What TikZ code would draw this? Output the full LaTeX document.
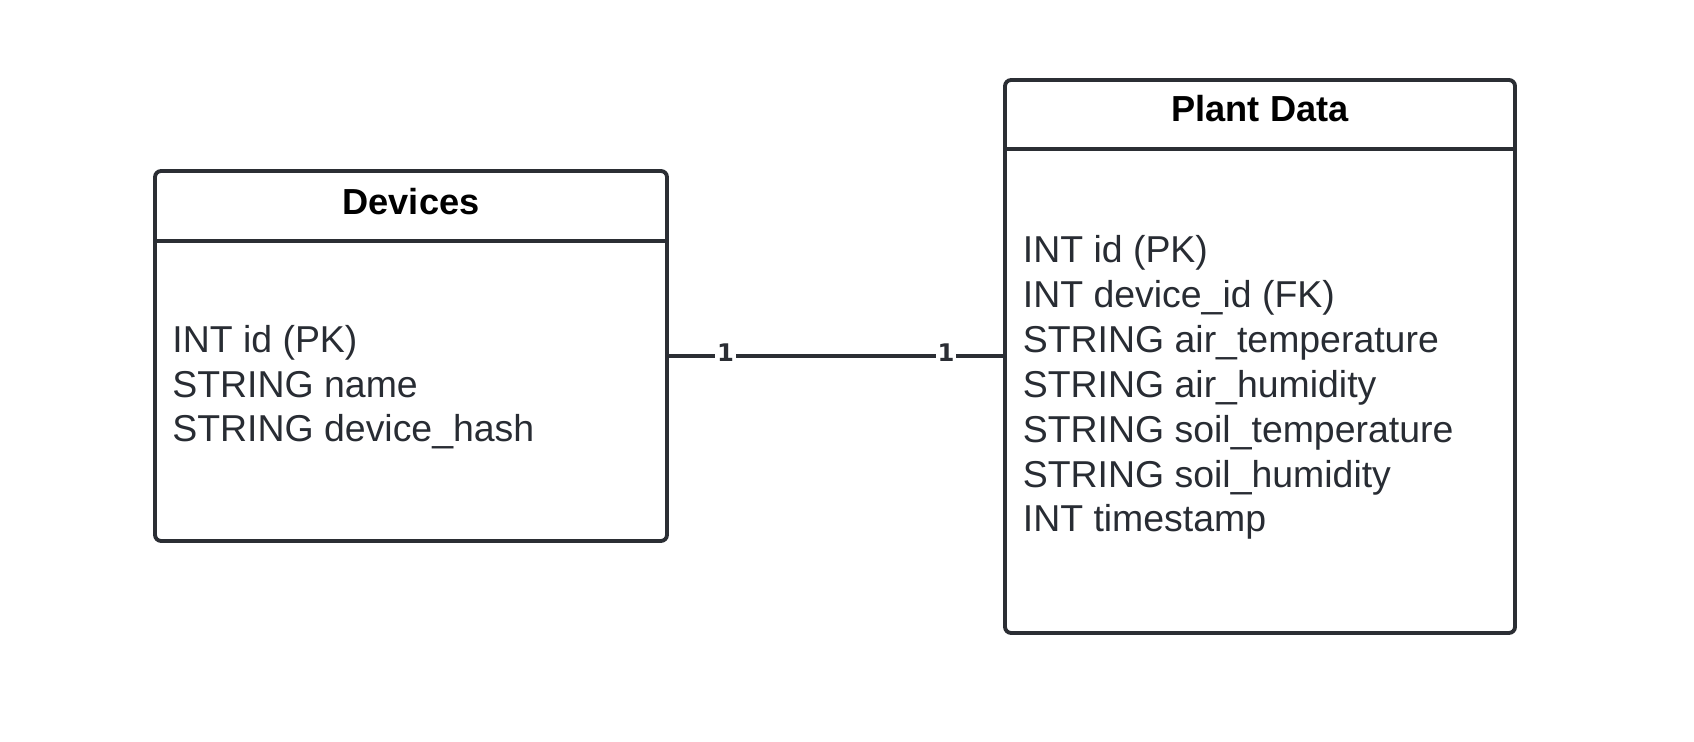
\documentclass[tikz,border=0pt]{standalone}
\usepackage{fontspec}
\setmainfont{Liberation Sans}
\newfontfamily\multfont{DejaVu Sans}
\usepackage{tikz}
\usetikzlibrary{positioning}
\definecolor{edge}{HTML}{2B2E34}
\definecolor{ink}{HTML}{282C33}

\begin{document}
\begin{tikzpicture}[
		table/.style={draw=edge, line width=2.2pt, rounded corners=3.5pt, outer sep=0pt},
		rule/.style={draw=edge, line width=2.2pt},
		title/.style={font=\bfseries\fontsize{20.6}{24}\selectfont, text=black, inner sep=0pt},
		fields/.style={font=\fontsize{21.3}{25.6}\selectfont, text=ink, align=left, inner sep=0pt, anchor=base west},
		mult/.style={font=\multfont\bfseries\fontsize{13.8}{14}\selectfont, text=edge, fill=white, inner sep=1pt}
	]
			\useasboundingbox (0,0) rectangle (33.88,14.84);

			% the two tables
			\node [table, minimum width=10.24cm, minimum height=7.40cm] (dev) at (8.22,7.72) {};
			\node [table, minimum width=10.20cm, minimum height=11.06cm] (pd) at (25.20,7.71) {};

			\draw [rule] ([yshift=-1.40cm]dev.north west) -- ([yshift=-1.40cm]dev.north east);
			\draw [rule] ([yshift=-1.38cm]pd.north west) -- ([yshift=-1.38cm]pd.north east);

			\node [title] (devtitle) at (8.22,10.81) {Devices};
			\node [title] (pdtitle) at (25.20,12.66) {Plant Data};

			% base anchor sits on the last line
			\node [fields] (devfields) at (3.44,6.00) {INT id (PK)\\STRING name\\STRING device\_hash};
			\node [fields] (pdfields) at (20.45,4.20) {INT id (PK)\\INT device\_id (FK)\\STRING air\_temperature\\STRING air\_humidity\\STRING soil\_temperature\\STRING soil\_humidity\\INT timestamp};

			% relation
			\draw [draw=edge, line width=1.8pt] (dev.east) -- (dev.east -| pd.west);
			\node [mult] (m1) at (14.51,7.78) {1};
			\node [mult] (m2) at (18.92,7.78) {1};

		\end{tikzpicture}
\end{document}
